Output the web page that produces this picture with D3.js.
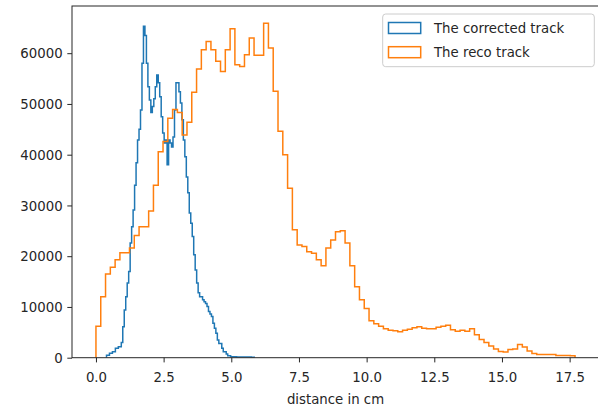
<!DOCTYPE html>
<html><head><meta charset="utf-8">
<script src="https://cdn.jsdelivr.net/npm/d3@7"></script>
<style>
body{margin:0;background:#fff}
svg{display:block}
text{font-family:"DejaVu Sans",sans-serif;fill:#262626}
</style>
</head><body>
<svg id="chart" width="598" height="410"></svg>
<script>
// ---- data ----
const seriesNames = ["The corrected track", "The reco track"];
const seriesColors = ["#1f77b4", "#ff7f0e"];

// corrected track: 100 bins spanning this range
const correctedRange = [0.39, 5.85];
const correctedCounts = [
  470, 500, 870, 870, 1180, 1180, 1850, 1850, 2170, 2170,
  3000, 6100, 9400, 12000, 14700, 17000, 22600, 25800, 29100, 34000,
  38400, 42900, 45000, 48800, 58000, 65300, 63500, 58000, 53400, 50800,
  48300, 49500, 51000, 53400, 55700, 54200, 51400, 47500, 44300, 42300,
  42900, 38000, 42900, 42300, 41500, 43500, 48800, 54200, 54200, 52400,
  50200, 46900, 42900, 39600, 35600, 32500, 28500, 26500, 23900, 20300,
  17300, 14700, 12800, 12000, 12000, 11400, 11000, 10700, 10100, 9100,
  8600, 8100, 6800, 5800, 4800, 3500, 2800, 2800, 1850, 1180,
  1180, 730, 400, 400, 200, 200, 180, 170, 160, 160,
  150, 150, 140, 140, 130, 130, 120, 120, 110, 100
];

// reco track: 100 bins spanning this range
const recoRange = [0, 17.7];
const recoCounts = [
  6200, 12000, 16500, 17800, 19300, 20700, 20700, 21600, 24100, 25800,
  25800, 28900, 34000, 40600, 42600, 47200, 48900, 48300, 43900, 46400,
  52300, 56900, 60700, 62300, 60700, 58400, 56400, 60700, 64800, 57700,
  57400, 59700, 63000, 59600, 59600, 65900, 61000, 52500, 44600, 40000,
  33400, 25200, 22200, 21900, 20900, 20600, 19300, 18100, 21600, 23200,
  24800, 25000, 22600, 18100, 14000, 11400, 9700, 7300, 6700, 6200,
  5700, 5400, 5300, 5100, 5400, 5600, 5900, 6100, 5800, 5700,
  5700, 6000, 6200, 6400, 5500, 5200, 5400, 5200, 5700, 4500,
  3600, 3000, 2300, 1700, 1200, 1100, 1600, 1700, 2600, 2100,
  1300, 850, 650, 650, 650, 650, 430, 430, 430, 400
];

const xTickValues = [0, 2.5, 5, 7.5, 10, 12.5, 15, 17.5];
const yTickValues = [0, 10000, 20000, 30000, 40000, 50000, 60000];
const xLabel = "distance in cm";
const xDomain = [-0.885, 18.585];
const yDomain = [0, 69300];

// ---- layout ----
const svg = d3.select("#chart");
const M = {left: 72, right: 599, top: 6, bottom: 357.7};
const x = d3.scaleLinear().domain(xDomain).range([M.left, M.right]);
const y = d3.scaleLinear().domain(yDomain).range([M.bottom, M.top]);

function binsFrom(range, counts) {
  const n = counts.length, w = (range[1] - range[0]) / n;
  return counts.map((c, i) => ({x0: range[0] + i * w, x1: range[0] + (i + 1) * w, v: c}));
}
function stepPath(bins) {
  const p = d3.path();
  p.moveTo(x(bins[0].x0), y(0));
  bins.forEach(b => { p.lineTo(x(b.x0), y(b.v)); p.lineTo(x(b.x1), y(b.v)); });
  p.lineTo(x(bins[bins.length - 1].x1), y(0));
  return p.toString();
}

const clip = svg.append("clipPath").attr("id", "plotclip")
  .append("rect").attr("x", M.left).attr("y", M.top)
  .attr("width", M.right - M.left).attr("height", M.bottom - M.top);

const plot = svg.append("g").attr("clip-path", "url(#plotclip)");
[[correctedRange, correctedCounts], [recoRange, recoCounts]].forEach(([r, c], i) => {
  plot.append("path")
    .attr("d", stepPath(binsFrom(r, c)))
    .attr("fill", "none")
    .attr("stroke", seriesColors[i])
    .attr("stroke-width", 1.5)
    .attr("stroke-linejoin", "miter");
});

// axes
const fs = 13.3;
const xAxis = svg.append("g").attr("transform", `translate(0,${M.bottom})`)
  .call(d3.axisBottom(x).tickValues(xTickValues).tickFormat(d3.format(".1f"))
    .tickSize(4.7).tickSizeOuter(0).tickPadding(4.7));
xAxis.select(".domain").remove();
xAxis.selectAll("text").attr("font-size", fs).attr("font-family", "DejaVu Sans")
  .attr("fill", "#262626").attr("y", 24.8).attr("dy", 0);
xAxis.selectAll("line").attr("stroke", "#262626").attr("stroke-width", 1);

const yAxis = svg.append("g").attr("transform", `translate(${M.left},0)`)
  .call(d3.axisLeft(y).tickValues(yTickValues).tickFormat(d3.format("d"))
    .tickSize(4.7).tickSizeOuter(0).tickPadding(4.7));
yAxis.select(".domain").remove();
yAxis.selectAll("text").attr("font-size", fs).attr("font-family", "DejaVu Sans")
  .attr("fill", "#262626").attr("dy", "0.36em");
yAxis.selectAll("line").attr("stroke", "#262626").attr("stroke-width", 1);

// spines
svg.append("rect").attr("x", M.left).attr("y", M.top)
  .attr("width", M.right - M.left).attr("height", M.bottom - M.top)
  .attr("fill", "none").attr("stroke", "#262626").attr("stroke-width", 1);

// x label
svg.append("text").attr("x", (M.left + M.right) / 2).attr("y", 404)
  .attr("text-anchor", "middle").attr("font-size", fs).text(xLabel);

// legend
const lg = svg.append("g");
lg.append("rect").attr("x", 382.7).attr("y", 14).attr("width", 211.6).attr("height", 52.7)
  .attr("rx", 3).attr("fill", "#fff").attr("fill-opacity", 0.8)
  .attr("stroke", "#cccccc").attr("stroke-width", 1);
seriesNames.forEach((name, i) => {
  const cy = 28 + i * 24.2;
  lg.append("rect").attr("x", 388.5).attr("y", cy - 5.5).attr("width", 32.2).attr("height", 11)
    .attr("fill", "none").attr("stroke", seriesColors[i]).attr("stroke-width", 1.5);
  lg.append("text").attr("x", 434).attr("y", cy + 4.8).attr("font-size", fs).text(name);
});
</script>
</body></html>
